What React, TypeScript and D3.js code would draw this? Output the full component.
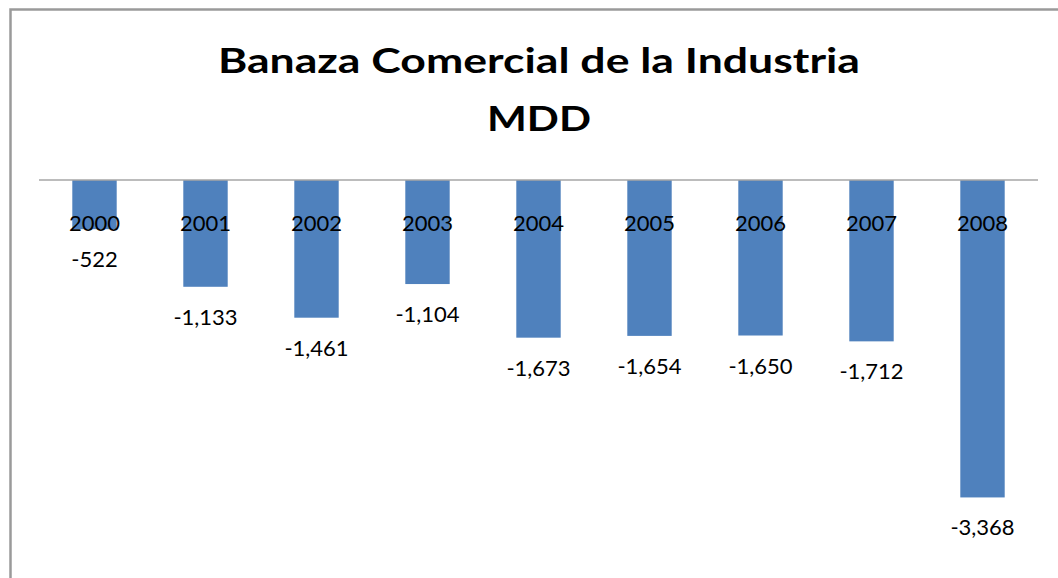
import * as d3 from "d3";

const years = ["2000", "2001", "2002", "2003", "2004", "2005", "2006", "2007", "2008"];
const balance = [-522, -1133, -1461, -1104, -1673, -1654, -1650, -1712, -3368];
const titleLines = ["Banaza Comercial de la Industria", "MDD"];
const titleWidths = [642, 104];

const width = 1058;
const height = 578;
const font = "Lato, 'Open Sans', sans-serif";

export default function App() {
  const x = d3.scaleBand().domain(years).range([39, 1038]).paddingInner(0.6).paddingOuter(0.3);
  const y = d3.scaleLinear().domain([-4000, 0]).range([557, 180]);
  // Excel style labels use a plain hyphen for negatives
  const fmt = (v: number) => d3.format(",")(v).replace("\u2212", "-");

  return (
    <svg
      width={width}
      height={height}
      style={{ position: "absolute", left: 0, top: 0, background: "#fff" }}
    >
      {/* chart frame, cut by the picture edge on right and bottom */}
      <rect x={10.5} y={9.5} width={1060} height={600} fill="#fff" stroke="#9a9a9a" strokeWidth={2.5} />

      {titleLines.map((t, i) => (
        <text
          key={t}
          x={539}
          y={73 + i * 58}
          textAnchor="middle"
          fontFamily={font}
          fontWeight="bold"
          fontSize={34}
          textLength={titleWidths[i]}
          lengthAdjust="spacingAndGlyphs"
          fill="#000"
        >
          {t}
        </text>
      ))}

      {years.map((yr, i) => (
        <rect
          key={yr}
          x={x(yr)}
          y={y(0)}
          width={x.bandwidth()}
          height={y(balance[i]) - y(0)}
          fill="#4F81BD"
        />
      ))}

      <line x1={39} x2={1038} y1={y(0)} y2={y(0)} stroke="#a6a6a6" strokeWidth={1.5} />

      {years.map((yr) => (
        <text
          key={"c" + yr}
          x={(x(yr) ?? 0) + x.bandwidth() / 2}
          y={231}
          textAnchor="middle"
          fontFamily={font}
          fontSize={22}
          fill="#000"
        >
          {yr}
        </text>
      ))}

      {years.map((yr, i) => (
        <text
          key={"v" + yr}
          x={(x(yr) ?? 0) + x.bandwidth() / 2}
          y={y(balance[i]) + 38}
          textAnchor="middle"
          fontFamily={font}
          fontSize={22}
          fill="#000"
        >
          {fmt(balance[i])}
        </text>
      ))}
    </svg>
  );
}
